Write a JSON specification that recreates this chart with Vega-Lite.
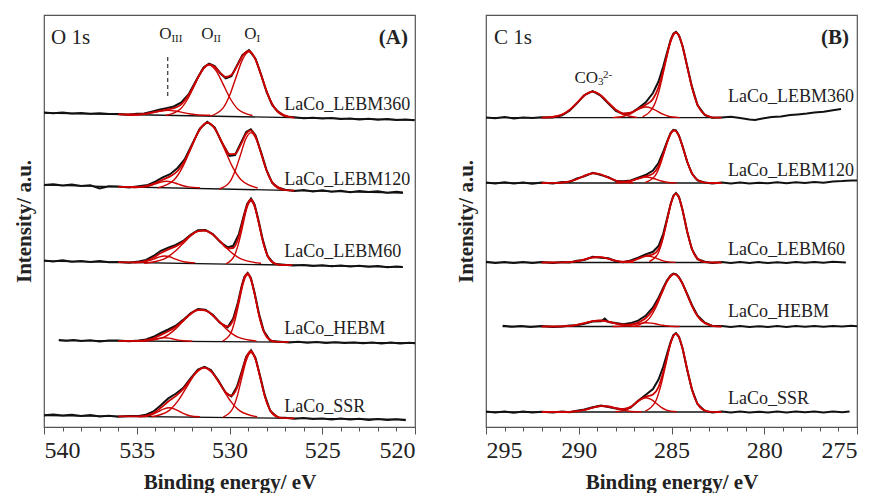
{
"$schema": "https://vega.github.io/schema/vega-lite/v6.json",
"background": "white",
"padding": {"left": 12, "top": 14, "right": 0, "bottom": 0},
"bounds": "flush",
"spacing": 71,
"config": {
  "font": "Liberation Serif",
  "view": {"stroke": "#555", "strokeWidth": 1.2},
  "axis": {"labelFont": "Liberation Serif", "titleFont": "Liberation Serif", "grid": false, "domainColor": "#555", "tickColor": "#555", "labelColor": "#222", "titleColor": "#222"},
  "axisY": {"labels": false, "ticks": false, "domain": false, "titleFontSize": 21, "titleFontWeight": "bold", "titlePadding": 10},
  "text": {"font": "Liberation Serif", "color": "#222"}
},
"datasets": {
"specA": [
{"s":"A1","x":540,"y":314.5},{"s":"A1","x":539.5,"y":313.8},{"s":"A1","x":539,"y":314.6},{"s":"A1","x":538.5,"y":313.5},{"s":"A1","x":538,"y":314.1},{"s":"A1","x":537.5,"y":313.2},{"s":"A1","x":537,"y":313.8},{"s":"A1","x":536.5,"y":312.9},
{"s":"A1","x":536,"y":313.1,"f":312.6},{"s":"A1","x":535.5,"y":312.3,"f":312.5},{"s":"A1","x":535,"y":313.2,"f":312.7},{"s":"A1","x":534.6,"y":313.5,"f":313.2},{"s":"A1","x":534.2,"y":315.3,"f":314.4},{"s":"A1","x":533.8,"y":317.2,"f":315.9},{"s":"A1","x":533.4,"y":318.9,"f":317.4},{"s":"A1","x":533.0,"y":320.5,"f":318.8},{"s":"A1","x":532.6,"y":324.6,"f":322.7},{"s":"A1","x":532.2,"y":332.8,"f":331.9},{"s":"A1","x":531.8,"y":346.5,"f":345.9},{"s":"A1","x":531.4,"y":359.6,"f":358.7},{"s":"A1","x":531.1,"y":363.4,"f":362.6},{"s":"A1","x":530.8,"y":360.9,"f":360.2},{"s":"A1","x":530.5,"y":353.8,"f":354.2},{"s":"A1","x":530.2,"y":348.7,"f":350.0},{"s":"A1","x":529.9,"y":350.8,"f":351.9},{"s":"A1","x":529.6,"y":361.4,"f":360.7},{"s":"A1","x":529.3,"y":372.0,"f":371.2},{"s":"A1","x":528.95,"y":376.9,"f":376.2},{"s":"A1","x":528.6,"y":368.3,"f":367.7},{"s":"A1","x":528.3,"y":352.6,"f":352.1},{"s":"A1","x":528.0,"y":335.0,"f":335.6},{"s":"A1","x":527.7,"y":322.1,"f":322.8},{"s":"A1","x":527.4,"y":315.6,"f":315.2},{"s":"A1","x":527.0,"y":310.5,"f":310.8},{"s":"A1","x":526.5,"y":309.8,"f":309.4},
{"s":"A1","x":526,"y":308.7},{"s":"A1","x":525.5,"y":309.3},{"s":"A1","x":525,"y":308.4},{"s":"A1","x":524.5,"y":309.0},{"s":"A1","x":524,"y":308.1},{"s":"A1","x":523.5,"y":308.6},{"s":"A1","x":523,"y":307.6},{"s":"A1","x":522.5,"y":308.2},{"s":"A1","x":522,"y":307.3},{"s":"A1","x":521.5,"y":307.9},{"s":"A1","x":521,"y":306.9},{"s":"A1","x":520.5,"y":307.5},{"s":"A1","x":520.05,"y":306.8},
{"s":"A2","x":540,"y":242.0},{"s":"A2","x":539.5,"y":242.8},{"s":"A2","x":539,"y":241.6},{"s":"A2","x":538.5,"y":242.4},{"s":"A2","x":538,"y":241.0},{"s":"A2","x":537.5,"y":241.8},{"s":"A2","x":537,"y":238.6},{"s":"A2","x":536.5,"y":240.8},
{"s":"A2","x":536,"y":240.6,"f":240.3},{"s":"A2","x":535.4,"y":239.5,"f":240.0},{"s":"A2","x":534.8,"y":240.9,"f":240.2},{"s":"A2","x":534.4,"y":242.0,"f":241.3},{"s":"A2","x":534.0,"y":245.3,"f":243.9},{"s":"A2","x":533.6,"y":249.6,"f":247.3},{"s":"A2","x":533.2,"y":252.8,"f":250.6},{"s":"A2","x":532.8,"y":259.0,"f":256.0},{"s":"A2","x":532.4,"y":268.2,"f":266.6},{"s":"A2","x":532.0,"y":283.4,"f":282.7},{"s":"A2","x":531.6,"y":298.3,"f":297.7},{"s":"A2","x":531.2,"y":305.2,"f":304.3},{"s":"A2","x":530.8,"y":299.5,"f":298.8},{"s":"A2","x":530.4,"y":284.0,"f":284.5},{"s":"A2","x":530.0,"y":271.2,"f":272.9},{"s":"A2","x":529.7,"y":272.0,"f":273.1},{"s":"A2","x":529.4,"y":283.6,"f":282.1},{"s":"A2","x":529.1,"y":295.0,"f":293.4},{"s":"A2","x":528.85,"y":297.6,"f":296.7},{"s":"A2","x":528.6,"y":291.8,"f":290.6},{"s":"A2","x":528.3,"y":275.0,"f":273.7},{"s":"A2","x":528.0,"y":256.9,"f":256.3},{"s":"A2","x":527.7,"y":244.1,"f":244.6},{"s":"A2","x":527.4,"y":239.6,"f":239.1},{"s":"A2","x":527.0,"y":237.2,"f":236.9},{"s":"A2","x":526.5,"y":236.0,"f":236.4},
{"s":"A2","x":526,"y":236.9},{"s":"A2","x":525.5,"y":235.6},{"s":"A2","x":525,"y":236.7},{"s":"A2","x":524.5,"y":235.3},{"s":"A2","x":524,"y":236.2},{"s":"A2","x":523.5,"y":234.7},{"s":"A2","x":523,"y":235.9},{"s":"A2","x":522.5,"y":234.9},{"s":"A2","x":522,"y":235.7},{"s":"A2","x":521.5,"y":234.3},{"s":"A2","x":521,"y":235.3},{"s":"A2","x":520.65,"y":234.5},
{"s":"A3","x":540,"y":166.4},{"s":"A3","x":539.5,"y":165.6},{"s":"A3","x":539,"y":166.8},{"s":"A3","x":538.5,"y":165.3},{"s":"A3","x":538,"y":166.1},{"s":"A3","x":537.5,"y":165.0},{"s":"A3","x":537,"y":165.9},{"s":"A3","x":536.5,"y":164.7},
{"s":"A3","x":536,"y":165.1,"f":164.8},{"s":"A3","x":535.4,"y":164.2,"f":164.6},{"s":"A3","x":534.9,"y":165.5,"f":164.9},{"s":"A3","x":534.5,"y":167.0,"f":166.1},{"s":"A3","x":534.1,"y":171.0,"f":169.5},{"s":"A3","x":533.7,"y":176.2,"f":174.0},{"s":"A3","x":533.3,"y":179.4,"f":177.6},{"s":"A3","x":532.9,"y":182.0,"f":180.6},{"s":"A3","x":532.5,"y":186.1,"f":185.3},{"s":"A3","x":532.1,"y":192.3,"f":191.4},{"s":"A3","x":531.7,"y":196.8,"f":195.9},{"s":"A3","x":531.3,"y":197.1,"f":196.4},{"s":"A3","x":530.9,"y":193.0,"f":192.4},{"s":"A3","x":530.5,"y":185.0,"f":185.5},{"s":"A3","x":530.1,"y":179.6,"f":178.7},{"s":"A3","x":529.8,"y":181.2,"f":179.0},{"s":"A3","x":529.5,"y":192.5,"f":190.2},{"s":"A3","x":529.25,"y":210.0,"f":208.4},{"s":"A3","x":529.05,"y":223.0,"f":221.9},{"s":"A3","x":528.84,"y":228.4,"f":227.5},{"s":"A3","x":528.65,"y":222.6,"f":221.5},{"s":"A3","x":528.45,"y":207.8,"f":206.4},{"s":"A3","x":528.2,"y":186.9,"f":185.8},{"s":"A3","x":527.95,"y":171.0,"f":171.3},{"s":"A3","x":527.6,"y":163.2,"f":163.6},{"s":"A3","x":527.2,"y":162.4,"f":162.0},{"s":"A3","x":526.6,"y":161.4,"f":161.8},
{"s":"A3","x":526,"y":162.1},{"s":"A3","x":525.5,"y":161.0},{"s":"A3","x":525,"y":161.8},{"s":"A3","x":524.5,"y":160.7},{"s":"A3","x":524,"y":161.5},{"s":"A3","x":523.5,"y":160.4},{"s":"A3","x":523,"y":161.2},{"s":"A3","x":522.5,"y":160.2},{"s":"A3","x":522,"y":160.9},{"s":"A3","x":521.5,"y":159.8},{"s":"A3","x":521,"y":160.6},{"s":"A3","x":520.66,"y":159.9},
{"s":"A4","x":539.2,"y":87.0},{"s":"A4","x":538.8,"y":86.2},{"s":"A4","x":538.4,"y":87.1},{"s":"A4","x":538.0,"y":86.0},{"s":"A4","x":537.5,"y":86.8},{"s":"A4","x":537.0,"y":85.6},{"s":"A4","x":536.5,"y":86.5},
{"s":"A4","x":536,"y":86.5,"f":86.1},{"s":"A4","x":535.4,"y":85.7,"f":86.0},{"s":"A4","x":534.9,"y":86.6,"f":86.1},{"s":"A4","x":534.5,"y":87.6,"f":86.8},{"s":"A4","x":534.1,"y":90.2,"f":88.7},{"s":"A4","x":533.7,"y":94.0,"f":92.1},{"s":"A4","x":533.3,"y":97.5,"f":95.7},{"s":"A4","x":532.9,"y":101.3,"f":100.1},{"s":"A4","x":532.5,"y":107.1,"f":106.3},{"s":"A4","x":532.1,"y":113.8,"f":113.1},{"s":"A4","x":531.7,"y":118.0,"f":117.1},{"s":"A4","x":531.3,"y":117.3,"f":116.6},{"s":"A4","x":530.9,"y":112.2,"f":111.5},{"s":"A4","x":530.5,"y":104.0,"f":104.3},{"s":"A4","x":530.1,"y":99.6,"f":100.5},{"s":"A4","x":529.8,"y":108.5,"f":107.2},{"s":"A4","x":529.55,"y":124.2,"f":123.0},{"s":"A4","x":529.35,"y":140.5,"f":139.4},{"s":"A4","x":529.2,"y":150.0,"f":149.1},{"s":"A4","x":529.02,"y":154.0,"f":153.5},{"s":"A4","x":528.85,"y":149.2,"f":148.4},{"s":"A4","x":528.65,"y":134.6,"f":133.4},{"s":"A4","x":528.4,"y":112.4,"f":111.2},{"s":"A4","x":528.15,"y":96.0,"f":95.5},{"s":"A4","x":527.8,"y":86.2,"f":86.7},{"s":"A4","x":527.4,"y":85.4,"f":85.1},{"s":"A4","x":526.8,"y":84.4,"f":84.9},
{"s":"A4","x":526.3,"y":85.2},{"s":"A4","x":525.8,"y":84.3},{"s":"A4","x":525.3,"y":85.0},{"s":"A4","x":524.8,"y":84.0},{"s":"A4","x":524.3,"y":84.8},{"s":"A4","x":523.8,"y":83.9},{"s":"A4","x":523.3,"y":84.6},{"s":"A4","x":522.8,"y":83.7},{"s":"A4","x":522.3,"y":84.5},{"s":"A4","x":521.8,"y":83.6},{"s":"A4","x":521.3,"y":84.4},{"s":"A4","x":520.8,"y":83.5},{"s":"A4","x":520.3,"y":84.3},{"s":"A4","x":520.0,"y":83.8},
{"s":"A5","x":540,"y":11.8},{"s":"A5","x":539.5,"y":12.6},{"s":"A5","x":539,"y":11.4},{"s":"A5","x":538.5,"y":12.3},{"s":"A5","x":538,"y":11.0},{"s":"A5","x":537.5,"y":11.9},{"s":"A5","x":537,"y":10.4},{"s":"A5","x":536.5,"y":11.3},
{"s":"A5","x":536,"y":10.2,"f":10.7},{"s":"A5","x":535.4,"y":11.1,"f":10.6},{"s":"A5","x":534.9,"y":10.9,"f":10.7},{"s":"A5","x":534.5,"y":12.3,"f":11.3},{"s":"A5","x":534.1,"y":15.6,"f":13.9},{"s":"A5","x":533.7,"y":21.8,"f":19.2},{"s":"A5","x":533.3,"y":28.6,"f":25.5},{"s":"A5","x":532.9,"y":33.2,"f":30.9},{"s":"A5","x":532.5,"y":39.0,"f":37.9},{"s":"A5","x":532.1,"y":48.6,"f":47.5},{"s":"A5","x":531.7,"y":57.4,"f":56.5},{"s":"A5","x":531.35,"y":60.2,"f":59.3},{"s":"A5","x":531.0,"y":56.9,"f":55.8},{"s":"A5","x":530.6,"y":46.5,"f":45.7},{"s":"A5","x":530.2,"y":34.0,"f":34.7},{"s":"A5","x":529.9,"y":30.6,"f":31.4},{"s":"A5","x":529.6,"y":40.2,"f":38.9},{"s":"A5","x":529.35,"y":55.0,"f":53.5},{"s":"A5","x":529.1,"y":70.4,"f":69.3},{"s":"A5","x":528.84,"y":76.8,"f":76.0},{"s":"A5","x":528.6,"y":69.2,"f":68.1},{"s":"A5","x":528.35,"y":51.0,"f":49.8},{"s":"A5","x":528.1,"y":31.8,"f":31.0},{"s":"A5","x":527.8,"y":16.0,"f":16.5},{"s":"A5","x":527.4,"y":9.5,"f":9.9},{"s":"A5","x":527.0,"y":9.3,"f":8.8},{"s":"A5","x":526.5,"y":8.2,"f":8.7},
{"s":"A5","x":526,"y":8.9},{"s":"A5","x":525.5,"y":7.9},{"s":"A5","x":525,"y":8.6},{"s":"A5","x":524.5,"y":7.6},{"s":"A5","x":524,"y":8.4},{"s":"A5","x":523.5,"y":7.4},{"s":"A5","x":523,"y":8.2},{"s":"A5","x":522.5,"y":7.1},{"s":"A5","x":522,"y":7.9},{"s":"A5","x":521.5,"y":6.9},{"s":"A5","x":521,"y":7.7},{"s":"A5","x":520.5,"y":6.8}
],
"compA": [
{"s":"A1","c":"I","x":531.05,"y":310.8},{"s":"A1","c":"I","x":530.35,"y":318.9},{"s":"A1","c":"I","x":530.0,"y":331.2},{"s":"A1","c":"I","x":529.65,"y":349.6},{"s":"A1","c":"I","x":529.3,"y":367.4},{"s":"A1","c":"I","x":528.95,"y":375.1},{"s":"A1","c":"I","x":528.6,"y":367.4},{"s":"A1","c":"I","x":528.25,"y":349.6},{"s":"A1","c":"I","x":527.9,"y":331.2},{"s":"A1","c":"I","x":527.55,"y":318.9},{"s":"A1","c":"I","x":526.85,"y":310.8},
{"s":"A1","c":"II","x":533.44,"y":311.5},{"s":"A1","c":"II","x":532.66,"y":317.8},{"s":"A1","c":"II","x":532.27,"y":327.5},{"s":"A1","c":"II","x":531.88,"y":341.9},{"s":"A1","c":"II","x":531.49,"y":355.9},{"s":"A1","c":"II","x":531.1,"y":361.9},{"s":"A1","c":"II","x":530.71,"y":355.9},{"s":"A1","c":"II","x":530.32,"y":341.9},{"s":"A1","c":"II","x":529.93,"y":327.5},{"s":"A1","c":"II","x":529.54,"y":317.8},{"s":"A1","c":"II","x":528.76,"y":311.5},
{"s":"A1","c":"III","x":535.55,"y":311.7},{"s":"A1","c":"III","x":534.8,"y":312.3},{"s":"A1","c":"III","x":534.43,"y":313.2},{"s":"A1","c":"III","x":534.05,"y":314.6},{"s":"A1","c":"III","x":533.68,"y":316.0},{"s":"A1","c":"III","x":533.3,"y":316.6},{"s":"A1","c":"III","x":532.93,"y":316.0},{"s":"A1","c":"III","x":532.55,"y":314.6},{"s":"A1","c":"III","x":532.18,"y":313.2},{"s":"A1","c":"III","x":531.8,"y":312.3},{"s":"A1","c":"III","x":531.05,"y":311.7},
{"s":"A2","c":"I","x":530.55,"y":238.0},{"s":"A2","c":"I","x":529.98,"y":245.1},{"s":"A2","c":"I","x":529.70,"y":255.9},{"s":"A2","c":"I","x":529.41,"y":272.0},{"s":"A2","c":"I","x":529.13,"y":287.7},{"s":"A2","c":"I","x":528.84,"y":294.4},{"s":"A2","c":"I","x":528.56,"y":287.7},{"s":"A2","c":"I","x":528.27,"y":272.0},{"s":"A2","c":"I","x":527.99,"y":255.9},{"s":"A2","c":"I","x":527.70,"y":245.1},{"s":"A2","c":"I","x":527.13,"y":238.0},
{"s":"A2","c":"II","x":533.88,"y":239.0},{"s":"A2","c":"II","x":532.98,"y":247.2},{"s":"A2","c":"II","x":532.53,"y":259.8},{"s":"A2","c":"II","x":532.08,"y":278.4},{"s":"A2","c":"II","x":531.63,"y":296.5},{"s":"A2","c":"II","x":531.18,"y":304.3},{"s":"A2","c":"II","x":530.73,"y":296.5},{"s":"A2","c":"II","x":530.28,"y":278.4},{"s":"A2","c":"II","x":529.83,"y":259.8},{"s":"A2","c":"II","x":529.38,"y":247.2},{"s":"A2","c":"II","x":528.48,"y":239.0},
{"s":"A2","c":"III","x":535.2,"y":239.3},{"s":"A2","c":"III","x":534.6,"y":240.1},{"s":"A2","c":"III","x":534.3,"y":241.3},{"s":"A2","c":"III","x":534.0,"y":243.1},{"s":"A2","c":"III","x":533.7,"y":244.9},{"s":"A2","c":"III","x":533.4,"y":245.7},{"s":"A2","c":"III","x":533.1,"y":244.9},{"s":"A2","c":"III","x":532.8,"y":243.1},{"s":"A2","c":"III","x":532.5,"y":241.3},{"s":"A2","c":"III","x":532.2,"y":240.1},{"s":"A2","c":"III","x":531.6,"y":239.3},
{"s":"A3","c":"I","x":530.19,"y":163.2},{"s":"A3","c":"I","x":529.74,"y":171.1},{"s":"A3","c":"I","x":529.52,"y":183.1},{"s":"A3","c":"I","x":529.29,"y":201.0},{"s":"A3","c":"I","x":529.07,"y":218.5},{"s":"A3","c":"I","x":528.84,"y":226.0},{"s":"A3","c":"I","x":528.62,"y":218.5},{"s":"A3","c":"I","x":528.39,"y":201.0},{"s":"A3","c":"I","x":528.17,"y":183.1},{"s":"A3","c":"I","x":527.94,"y":171.1},{"s":"A3","c":"I","x":527.49,"y":163.2},
{"s":"A3","c":"II","x":534.6,"y":163.7},{"s":"A3","c":"II","x":533.55,"y":167.8},{"s":"A3","c":"II","x":533.03,"y":174.2},{"s":"A3","c":"II","x":532.5,"y":183.6},{"s":"A3","c":"II","x":531.98,"y":192.8},{"s":"A3","c":"II","x":531.45,"y":196.7},{"s":"A3","c":"II","x":530.93,"y":192.8},{"s":"A3","c":"II","x":530.4,"y":183.6},{"s":"A3","c":"II","x":529.88,"y":174.2},{"s":"A3","c":"II","x":529.35,"y":167.8},{"s":"A3","c":"II","x":528.3,"y":163.7},
{"s":"A3","c":"III","x":535.15,"y":164.1},{"s":"A3","c":"III","x":534.6,"y":165.0},{"s":"A3","c":"III","x":534.33,"y":166.3},{"s":"A3","c":"III","x":534.05,"y":168.2},{"s":"A3","c":"III","x":533.78,"y":170.2},{"s":"A3","c":"III","x":533.5,"y":171.0},{"s":"A3","c":"III","x":533.23,"y":170.2},{"s":"A3","c":"III","x":532.95,"y":168.2},{"s":"A3","c":"III","x":532.68,"y":166.3},{"s":"A3","c":"III","x":532.4,"y":165.0},{"s":"A3","c":"III","x":531.85,"y":164.1},
{"s":"A4","c":"I","x":530.37,"y":85.9},{"s":"A4","c":"I","x":529.92,"y":94.2},{"s":"A4","c":"I","x":529.70,"y":107.0},{"s":"A4","c":"I","x":529.47,"y":125.9},{"s":"A4","c":"I","x":529.25,"y":144.3},{"s":"A4","c":"I","x":529.02,"y":152.2},{"s":"A4","c":"I","x":528.80,"y":144.3},{"s":"A4","c":"I","x":528.57,"y":125.9},{"s":"A4","c":"I","x":528.35,"y":107.0},{"s":"A4","c":"I","x":528.12,"y":94.2},{"s":"A4","c":"I","x":527.67,"y":85.9},
{"s":"A4","c":"II","x":534.54,"y":85.9},{"s":"A4","c":"II","x":533.54,"y":89.8},{"s":"A4","c":"II","x":533.04,"y":95.9},{"s":"A4","c":"II","x":532.54,"y":104.9},{"s":"A4","c":"II","x":532.04,"y":113.7},{"s":"A4","c":"II","x":531.54,"y":117.5},{"s":"A4","c":"II","x":531.04,"y":113.7},{"s":"A4","c":"II","x":530.54,"y":104.9},{"s":"A4","c":"II","x":530.04,"y":95.9},{"s":"A4","c":"II","x":529.54,"y":89.8},{"s":"A4","c":"II","x":528.54,"y":85.9},
{"s":"A4","c":"III","x":535.0,"y":85.8},{"s":"A4","c":"III","x":534.5,"y":86.3},{"s":"A4","c":"III","x":534.25,"y":86.9},{"s":"A4","c":"III","x":534.0,"y":87.9},{"s":"A4","c":"III","x":533.75,"y":88.9},{"s":"A4","c":"III","x":533.5,"y":89.3},{"s":"A4","c":"III","x":533.25,"y":88.9},{"s":"A4","c":"III","x":533.0,"y":87.9},{"s":"A4","c":"III","x":532.75,"y":86.9},{"s":"A4","c":"III","x":532.5,"y":86.3},{"s":"A4","c":"III","x":532.0,"y":85.8},
{"s":"A5","c":"I","x":530.34,"y":9.9},{"s":"A5","c":"I","x":529.84,"y":18.0},{"s":"A5","c":"I","x":529.59,"y":30.4},{"s":"A5","c":"I","x":529.34,"y":48.8},{"s":"A5","c":"I","x":529.09,"y":66.8},{"s":"A5","c":"I","x":528.84,"y":74.5},{"s":"A5","c":"I","x":528.59,"y":66.8},{"s":"A5","c":"I","x":528.34,"y":48.8},{"s":"A5","c":"I","x":528.09,"y":30.4},{"s":"A5","c":"I","x":527.84,"y":18.0},{"s":"A5","c":"I","x":527.34,"y":9.9},
{"s":"A5","c":"II","x":534.21,"y":10.2},{"s":"A5","c":"II","x":533.26,"y":16.4},{"s":"A5","c":"II","x":532.79,"y":25.8},{"s":"A5","c":"II","x":532.31,"y":39.8},{"s":"A5","c":"II","x":531.84,"y":53.4},{"s":"A5","c":"II","x":531.36,"y":59.3},{"s":"A5","c":"II","x":530.89,"y":53.4},{"s":"A5","c":"II","x":530.41,"y":39.8},{"s":"A5","c":"II","x":529.94,"y":25.8},{"s":"A5","c":"II","x":529.46,"y":16.4},{"s":"A5","c":"II","x":528.51,"y":10.2},
{"s":"A5","c":"III","x":534.9,"y":10.2},{"s":"A5","c":"III","x":534.35,"y":11.3},{"s":"A5","c":"III","x":534.08,"y":13.1},{"s":"A5","c":"III","x":533.8,"y":15.7},{"s":"A5","c":"III","x":533.53,"y":18.2},{"s":"A5","c":"III","x":533.25,"y":19.3},{"s":"A5","c":"III","x":532.98,"y":18.2},{"s":"A5","c":"III","x":532.7,"y":15.7},{"s":"A5","c":"III","x":532.43,"y":13.1},{"s":"A5","c":"III","x":532.15,"y":11.3},{"s":"A5","c":"III","x":531.6,"y":10.2}
],
"baseA": [
{"s":"A1","x":540,"y":314},{"s":"A1","x":520,"y":307},
{"s":"A2","x":540,"y":241.9},{"s":"A2","x":520.65,"y":234},
{"s":"A3","x":540,"y":166},{"s":"A3","x":520.66,"y":160},
{"s":"A4","x":539.2,"y":86.5},{"s":"A4","x":520,"y":84},
{"s":"A5","x":540,"y":11.5},{"s":"A5","x":520.5,"y":7.5}
],
"labA": [
{"x":527.05,"y":317,"t":"LaCo_LEBM360"},{"x":527.05,"y":242.5,"t":"LaCo_LEBM120"},{"x":527.05,"y":170.3,"t":"LaCo_LEBM60"},{"x":527.05,"y":93.3,"t":"LaCo_HEBM"},{"x":527.05,"y":15.5,"t":"LaCo_SSR"}
],
"annA": [
{"k":"head","x":539.62,"y":383,"t":"O 1s"},
{"k":"tag","x":520.38,"y":383,"t":"(A)"},
{"k":"O","x":533.13,"y":387.7,"t":"O"},{"k":"O","x":530.86,"y":387.7,"t":"O"},{"k":"O","x":528.54,"y":387.7,"t":"O"},
{"k":"sub","x":533.13,"y":385.3,"t":"III"},{"k":"sub","x":530.86,"y":385.3,"t":"II"},{"k":"sub","x":528.54,"y":385.3,"t":"I"}
],
"dashA": [{"x":533.33,"y":331,"y2":373}],
"specB": [
{"s":"B1","x":295,"y":309.6},{"s":"B1","x":294.5,"y":308.8},{"s":"B1","x":294,"y":309.9},{"s":"B1","x":293.5,"y":308.6},{"s":"B1","x":293,"y":309.5},{"s":"B1","x":292.5,"y":308.9},
{"s":"B1","x":292,"y":309.8,"f":309.4},{"s":"B1","x":291.4,"y":309.4,"f":310.0},{"s":"B1","x":290.9,"y":311.6,"f":312.4},{"s":"B1","x":290.5,"y":316.2,"f":317.0},{"s":"B1","x":290.1,"y":323.6,"f":324.1},{"s":"B1","x":289.7,"y":332.0,"f":331.5},{"s":"B1","x":289.25,"y":335.8,"f":335.3},{"s":"B1","x":288.8,"y":331.0,"f":331.5},{"s":"B1","x":288.4,"y":323.5,"f":324.1},{"s":"B1","x":288.0,"y":316.2,"f":317.3},{"s":"B1","x":287.6,"y":312.9,"f":313.7},{"s":"B1","x":287.2,"y":313.6,"f":314.4},{"s":"B1","x":286.8,"y":318.6,"f":318.1},{"s":"B1","x":286.4,"y":324.5,"f":322.1},{"s":"B1","x":286.0,"y":334.0,"f":328.1},{"s":"B1","x":285.7,"y":345.5,"f":339.8},{"s":"B1","x":285.45,"y":360.2,"f":356.5},{"s":"B1","x":285.25,"y":373.8,"f":371.9},{"s":"B1","x":285.05,"y":386.9,"f":386.0},{"s":"B1","x":284.9,"y":393.4,"f":392.7},{"s":"B1","x":284.76,"y":395.2,"f":394.6},{"s":"B1","x":284.6,"y":391.8,"f":391.3},{"s":"B1","x":284.4,"y":380.8,"f":380.3},{"s":"B1","x":284.15,"y":360.5,"f":359.9},{"s":"B1","x":283.9,"y":340.6,"f":339.9},{"s":"B1","x":283.6,"y":322.0,"f":322.5},{"s":"B1","x":283.2,"y":311.8,"f":312.2},{"s":"B1","x":282.8,"y":309.2,"f":309.7},{"s":"B1","x":282.3,"y":309.6,"f":309.3},
{"s":"B1","x":281.8,"y":310.2},{"s":"B1","x":281.3,"y":309.0},{"s":"B1","x":280.8,"y":307.5},{"s":"B1","x":280.5,"y":306.9},{"s":"B1","x":280.1,"y":308.4},{"s":"B1","x":279.6,"y":310.0},{"s":"B1","x":279.1,"y":310.6},{"s":"B1","x":278.6,"y":311.9},{"s":"B1","x":278.2,"y":312.6},{"s":"B1","x":277.7,"y":313.4},{"s":"B1","x":277.3,"y":314.5},{"s":"B1","x":276.8,"y":315.2},{"s":"B1","x":276.3,"y":316.8},{"s":"B1","x":275.86,"y":317.9},
{"s":"B2","x":295,"y":244.5},{"s":"B2","x":294.5,"y":243.6},{"s":"B2","x":294,"y":244.8},{"s":"B2","x":293.5,"y":243.5},{"s":"B2","x":293,"y":244.4},{"s":"B2","x":292.5,"y":243.3},
{"s":"B2","x":292,"y":244.6,"f":244.0},{"s":"B2","x":291.4,"y":243.5,"f":244.1},{"s":"B2","x":290.9,"y":244.9,"f":244.4},{"s":"B2","x":290.5,"y":245.0,"f":245.6},{"s":"B2","x":290.1,"y":248.5,"f":247.9},{"s":"B2","x":289.7,"y":250.6,"f":251.2},{"s":"B2","x":289.25,"y":254.2,"f":253.6},{"s":"B2","x":288.8,"y":251.9,"f":252.5},{"s":"B2","x":288.4,"y":249.8,"f":249.3},{"s":"B2","x":288.0,"y":245.9,"f":246.5},{"s":"B2","x":287.6,"y":245.8,"f":245.3},{"s":"B2","x":287.2,"y":246.6,"f":246.1},{"s":"B2","x":286.8,"y":249.4,"f":248.4},{"s":"B2","x":286.4,"y":252.0,"f":250.6},{"s":"B2","x":286.0,"y":256.4,"f":253.4},{"s":"B2","x":285.7,"y":264.0,"f":260.9},{"s":"B2","x":285.45,"y":275.0,"f":272.7},{"s":"B2","x":285.25,"y":285.0,"f":283.9},{"s":"B2","x":285.05,"y":294.0,"f":293.3},{"s":"B2","x":284.9,"y":297.2,"f":296.5},{"s":"B2","x":284.76,"y":296.6,"f":296.0},{"s":"B2","x":284.6,"y":291.5,"f":291.0},{"s":"B2","x":284.4,"y":280.6,"f":280.1},{"s":"B2","x":284.15,"y":265.0,"f":265.2},{"s":"B2","x":283.9,"y":253.4,"f":253.9},{"s":"B2","x":283.6,"y":246.6,"f":247.0},{"s":"B2","x":283.2,"y":244.6,"f":244.3},{"s":"B2","x":282.8,"y":243.5,"f":244.0},{"s":"B2","x":282.3,"y":244.4,"f":244.0},
{"s":"B2","x":281.8,"y":243.6},{"s":"B2","x":281.3,"y":244.5},{"s":"B2","x":280.8,"y":243.4},{"s":"B2","x":280.3,"y":244.3},{"s":"B2","x":279.8,"y":243.7},{"s":"B2","x":279.3,"y":244.8},{"s":"B2","x":278.8,"y":243.8},{"s":"B2","x":278.3,"y":244.7},{"s":"B2","x":277.8,"y":243.9},{"s":"B2","x":277.3,"y":244.9},{"s":"B2","x":276.8,"y":244.2},{"s":"B2","x":276.3,"y":245.6},{"s":"B2","x":275.8,"y":245.9},{"s":"B2","x":275.3,"y":246.5},{"s":"B2","x":275.0,"y":246.4},
{"s":"B3","x":295,"y":165.2},{"s":"B3","x":294.5,"y":164.0},{"s":"B3","x":294,"y":165.0},{"s":"B3","x":293.5,"y":163.9},{"s":"B3","x":293,"y":165.1},{"s":"B3","x":292.5,"y":164.1},
{"s":"B3","x":292,"y":164.9,"f":164.5},{"s":"B3","x":291.4,"y":164.0,"f":164.5},{"s":"B3","x":290.9,"y":165.1,"f":164.6},{"s":"B3","x":290.5,"y":164.4,"f":164.9},{"s":"B3","x":290.1,"y":166.3,"f":165.8},{"s":"B3","x":289.7,"y":167.0,"f":167.5},{"s":"B3","x":289.25,"y":170.2,"f":169.5},{"s":"B3","x":288.8,"y":169.2,"f":169.8},{"s":"B3","x":288.4,"y":168.7,"f":168.2},{"s":"B3","x":288.0,"y":165.7,"f":166.3},{"s":"B3","x":287.6,"y":164.8,"f":165.3},{"s":"B3","x":287.2,"y":166.5,"f":165.8},{"s":"B3","x":286.8,"y":169.4,"f":168.3},{"s":"B3","x":286.4,"y":172.6,"f":171.0},{"s":"B3","x":286.0,"y":175.2,"f":172.6},{"s":"B3","x":285.7,"y":181.0,"f":177.8},{"s":"B3","x":285.45,"y":193.0,"f":190.5},{"s":"B3","x":285.25,"y":207.5,"f":206.2},{"s":"B3","x":285.05,"y":222.8,"f":222.2},{"s":"B3","x":284.9,"y":231.2,"f":230.6},{"s":"B3","x":284.76,"y":233.9,"f":233.3},{"s":"B3","x":284.6,"y":230.2,"f":229.7},{"s":"B3","x":284.4,"y":216.8,"f":216.4},{"s":"B3","x":284.15,"y":195.0,"f":195.2},{"s":"B3","x":283.9,"y":177.8,"f":178.3},{"s":"B3","x":283.6,"y":167.9,"f":168.2},{"s":"B3","x":283.2,"y":165.2,"f":164.8},{"s":"B3","x":282.8,"y":164.0,"f":164.5},{"s":"B3","x":282.3,"y":164.9,"f":164.5},
{"s":"B3","x":281.8,"y":164.1},{"s":"B3","x":281.3,"y":165.0},{"s":"B3","x":280.8,"y":164.0},{"s":"B3","x":280.3,"y":164.9},{"s":"B3","x":279.8,"y":163.9},{"s":"B3","x":279.3,"y":164.8},{"s":"B3","x":278.8,"y":164.0},{"s":"B3","x":278.3,"y":165.0},{"s":"B3","x":277.8,"y":164.2},{"s":"B3","x":277.3,"y":165.1},{"s":"B3","x":276.8,"y":164.3},{"s":"B3","x":276.3,"y":165.2},{"s":"B3","x":275.6,"y":164.6},
{"s":"B4","x":294.1,"y":101.2},{"s":"B4","x":293.6,"y":100.2},{"s":"B4","x":293.1,"y":101.0},{"s":"B4","x":292.6,"y":99.9},
{"s":"B4","x":292,"y":100.9,"f":100.5},{"s":"B4","x":291.4,"y":100.1,"f":100.5},{"s":"B4","x":290.9,"y":100.4,"f":100.7},{"s":"B4","x":290.5,"y":101.6,"f":101.1},{"s":"B4","x":290.1,"y":101.8,"f":102.2},{"s":"B4","x":289.7,"y":103.2,"f":103.9},{"s":"B4","x":289.25,"y":105.4,"f":105.9},{"s":"B4","x":288.8,"y":105.8,"f":106.5},{"s":"B4","x":288.6,"y":108.4},{"s":"B4","x":288.4,"y":105.0,"f":105.3},{"s":"B4","x":288.0,"y":103.9,"f":103.5},{"s":"B4","x":287.6,"y":102.7,"f":102.3},{"s":"B4","x":287.2,"y":103.9,"f":102.7},{"s":"B4","x":286.8,"y":106.4,"f":104.5},{"s":"B4","x":286.4,"y":111.2,"f":108.8},{"s":"B4","x":286.0,"y":119.5,"f":117.2},{"s":"B4","x":285.7,"y":129.2,"f":127.6},{"s":"B4","x":285.45,"y":139.0,"f":137.8},{"s":"B4","x":285.25,"y":146.4,"f":145.6},{"s":"B4","x":285.05,"y":151.6,"f":151.0},{"s":"B4","x":284.9,"y":153.4,"f":152.8},{"s":"B4","x":284.76,"y":152.9,"f":152.3},{"s":"B4","x":284.6,"y":150.0,"f":149.4},{"s":"B4","x":284.4,"y":143.2,"f":143.0},{"s":"B4","x":284.15,"y":132.8,"f":132.2},{"s":"B4","x":283.9,"y":122.0,"f":121.2},{"s":"B4","x":283.6,"y":111.5,"f":111.0},{"s":"B4","x":283.2,"y":104.4,"f":103.7},{"s":"B4","x":282.8,"y":101.0,"f":101.2},{"s":"B4","x":282.3,"y":100.9,"f":100.5},
{"s":"B4","x":281.8,"y":100.0},{"s":"B4","x":281.3,"y":100.9},{"s":"B4","x":280.8,"y":99.9},{"s":"B4","x":280.3,"y":100.8},{"s":"B4","x":279.8,"y":100.1},{"s":"B4","x":279.3,"y":101.0},{"s":"B4","x":278.8,"y":100.0},{"s":"B4","x":278.3,"y":100.9},{"s":"B4","x":277.8,"y":100.2},{"s":"B4","x":277.3,"y":101.1},{"s":"B4","x":276.8,"y":100.3},{"s":"B4","x":276.3,"y":101.0},{"s":"B4","x":275.8,"y":100.4},{"s":"B4","x":275.3,"y":101.2},{"s":"B4","x":275.0,"y":100.8},
{"s":"B5","x":295,"y":15.6},{"s":"B5","x":294.5,"y":14.6},{"s":"B5","x":294,"y":15.5},{"s":"B5","x":293.5,"y":14.3},{"s":"B5","x":293,"y":15.4},{"s":"B5","x":292.5,"y":14.5},
{"s":"B5","x":292,"y":15.3,"f":15.0},{"s":"B5","x":291.4,"y":14.4,"f":15.0},{"s":"B5","x":290.9,"y":15.6,"f":15.0},{"s":"B5","x":290.5,"y":14.8,"f":15.2},{"s":"B5","x":290.1,"y":16.2,"f":15.8},{"s":"B5","x":289.7,"y":17.5,"f":17.1},{"s":"B5","x":289.25,"y":19.8,"f":19.3},{"s":"B5","x":288.8,"y":21.4,"f":20.9},{"s":"B5","x":288.4,"y":20.0,"f":20.5},{"s":"B5","x":288.0,"y":18.4,"f":19.0},{"s":"B5","x":287.6,"y":17.2,"f":18.0},{"s":"B5","x":287.2,"y":19.5,"f":20.2},{"s":"B5","x":286.8,"y":26.2,"f":25.9},{"s":"B5","x":286.4,"y":32.0,"f":30.2},{"s":"B5","x":286.0,"y":38.0,"f":32.6},{"s":"B5","x":285.7,"y":47.5,"f":39.9},{"s":"B5","x":285.45,"y":60.0,"f":54.4},{"s":"B5","x":285.25,"y":72.5,"f":69.4},{"s":"B5","x":285.05,"y":85.0,"f":83.7},{"s":"B5","x":284.9,"y":91.8,"f":91.1},{"s":"B5","x":284.76,"y":93.8,"f":93.3},{"s":"B5","x":284.6,"y":90.2,"f":89.9},{"s":"B5","x":284.4,"y":78.5,"f":78.3},{"s":"B5","x":284.15,"y":56.8,"f":57.2},{"s":"B5","x":283.9,"y":37.6,"f":38.1},{"s":"B5","x":283.6,"y":23.0,"f":23.4},{"s":"B5","x":283.2,"y":16.1,"f":16.4},{"s":"B5","x":282.8,"y":14.6,"f":15.1},{"s":"B5","x":282.3,"y":15.4,"f":15.0},
{"s":"B5","x":281.8,"y":14.5},{"s":"B5","x":281.3,"y":15.4},{"s":"B5","x":280.8,"y":14.4},{"s":"B5","x":280.3,"y":15.3},{"s":"B5","x":279.8,"y":14.6},{"s":"B5","x":279.3,"y":15.5},{"s":"B5","x":278.8,"y":14.5},{"s":"B5","x":278.3,"y":15.6},{"s":"B5","x":277.8,"y":14.7},{"s":"B5","x":277.3,"y":15.4},{"s":"B5","x":276.8,"y":14.6},{"s":"B5","x":276.3,"y":15.5},{"s":"B5","x":275.8,"y":14.8},{"s":"B5","x":275.4,"y":15.6}
],
"compB": [
{"s":"B1","c":"m","x":286.56,"y":310.2},{"s":"B1","c":"m","x":285.96,"y":320.8},{"s":"B1","c":"m","x":285.66,"y":336.9},{"s":"B1","c":"m","x":285.36,"y":360.9},{"s":"B1","c":"m","x":285.06,"y":384.3},{"s":"B1","c":"m","x":284.76,"y":394.3},{"s":"B1","c":"m","x":284.46,"y":384.3},{"s":"B1","c":"m","x":284.16,"y":360.9},{"s":"B1","c":"m","x":283.86,"y":336.9},{"s":"B1","c":"m","x":283.56,"y":320.8},{"s":"B1","c":"m","x":282.96,"y":310.2},
{"s":"B1","c":"d","x":288.17,"y":309.4},{"s":"B1","c":"d","x":287.57,"y":310.7},{"s":"B1","c":"d","x":287.27,"y":312.8},{"s":"B1","c":"d","x":286.97,"y":315.8},{"s":"B1","c":"d","x":286.67,"y":318.7},{"s":"B1","c":"d","x":286.37,"y":320.0},{"s":"B1","c":"d","x":286.07,"y":318.7},{"s":"B1","c":"d","x":285.77,"y":315.8},{"s":"B1","c":"d","x":285.47,"y":312.8},{"s":"B1","c":"d","x":285.17,"y":310.7},{"s":"B1","c":"d","x":284.57,"y":309.4},
{"s":"B1","c":"c","x":291.65,"y":309.6},{"s":"B1","c":"c","x":290.85,"y":312.8},{"s":"B1","c":"c","x":290.45,"y":317.8},{"s":"B1","c":"c","x":290.05,"y":325.1},{"s":"B1","c":"c","x":289.65,"y":332.2},{"s":"B1","c":"c","x":289.25,"y":335.3},{"s":"B1","c":"c","x":288.85,"y":332.2},{"s":"B1","c":"c","x":288.45,"y":325.1},{"s":"B1","c":"c","x":288.05,"y":317.8},{"s":"B1","c":"c","x":287.65,"y":312.8},{"s":"B1","c":"c","x":286.85,"y":309.6},
{"s":"B2","c":"m","x":286.41,"y":244.6},{"s":"B2","c":"m","x":285.89,"y":251.1},{"s":"B2","c":"m","x":285.63,"y":261.1},{"s":"B2","c":"m","x":285.37,"y":276.0},{"s":"B2","c":"m","x":285.11,"y":290.5},{"s":"B2","c":"m","x":284.85,"y":296.7},{"s":"B2","c":"m","x":284.59,"y":290.5},{"s":"B2","c":"m","x":284.33,"y":276.0},{"s":"B2","c":"m","x":284.07,"y":261.1},{"s":"B2","c":"m","x":283.81,"y":251.1},{"s":"B2","c":"m","x":283.29,"y":244.6},
{"s":"B2","c":"d","x":288.02,"y":244.1},{"s":"B2","c":"d","x":287.47,"y":244.8},{"s":"B2","c":"d","x":287.2,"y":246.0},{"s":"B2","c":"d","x":286.92,"y":247.6},{"s":"B2","c":"d","x":286.65,"y":249.3},{"s":"B2","c":"d","x":286.37,"y":250.0},{"s":"B2","c":"d","x":286.1,"y":249.3},{"s":"B2","c":"d","x":285.82,"y":247.6},{"s":"B2","c":"d","x":285.55,"y":246.0},{"s":"B2","c":"d","x":285.27,"y":244.8},{"s":"B2","c":"d","x":284.72,"y":244.1},
{"s":"B2","c":"c","x":291.26,"y":244.1},{"s":"B2","c":"c","x":290.56,"y":245.3},{"s":"B2","c":"c","x":290.21,"y":247.2},{"s":"B2","c":"c","x":289.86,"y":249.9},{"s":"B2","c":"c","x":289.51,"y":252.6},{"s":"B2","c":"c","x":289.16,"y":253.7},{"s":"B2","c":"c","x":288.81,"y":252.6},{"s":"B2","c":"c","x":288.46,"y":249.9},{"s":"B2","c":"c","x":288.11,"y":247.2},{"s":"B2","c":"c","x":287.76,"y":245.3},{"s":"B2","c":"c","x":287.06,"y":244.1},
{"s":"B3","c":"m","x":286.2,"y":165.3},{"s":"B3","c":"m","x":285.72,"y":173.8},{"s":"B3","c":"m","x":285.48,"y":186.9},{"s":"B3","c":"m","x":285.24,"y":206.3},{"s":"B3","c":"m","x":285.0,"y":225.2},{"s":"B3","c":"m","x":284.76,"y":233.3},{"s":"B3","c":"m","x":284.52,"y":225.2},{"s":"B3","c":"m","x":284.28,"y":206.3},{"s":"B3","c":"m","x":284.04,"y":186.9},{"s":"B3","c":"m","x":283.8,"y":173.8},{"s":"B3","c":"m","x":283.32,"y":165.3},
{"s":"B3","c":"d","x":287.78,"y":164.6},{"s":"B3","c":"d","x":287.28,"y":165.4},{"s":"B3","c":"d","x":287.03,"y":166.6},{"s":"B3","c":"d","x":286.78,"y":168.4},{"s":"B3","c":"d","x":286.53,"y":170.2},{"s":"B3","c":"d","x":286.28,"y":171.0},{"s":"B3","c":"d","x":286.03,"y":170.2},{"s":"B3","c":"d","x":285.78,"y":168.4},{"s":"B3","c":"d","x":285.53,"y":166.6},{"s":"B3","c":"d","x":285.28,"y":165.4},{"s":"B3","c":"d","x":284.78,"y":164.6},
{"s":"B3","c":"c","x":290.93,"y":164.6},{"s":"B3","c":"c","x":290.28,"y":165.2},{"s":"B3","c":"c","x":289.96,"y":166.3},{"s":"B3","c":"c","x":289.63,"y":167.8},{"s":"B3","c":"c","x":289.31,"y":169.4},{"s":"B3","c":"c","x":288.98,"y":170.0},{"s":"B3","c":"c","x":288.66,"y":169.4},{"s":"B3","c":"c","x":288.33,"y":167.8},{"s":"B3","c":"c","x":288.01,"y":166.3},{"s":"B3","c":"c","x":287.68,"y":165.2},{"s":"B3","c":"c","x":287.03,"y":164.6},
{"s":"B4","c":"m","x":286.95,"y":101.1},{"s":"B4","c":"m","x":286.25,"y":107.5},{"s":"B4","c":"m","x":285.9,"y":117.5},{"s":"B4","c":"m","x":285.55,"y":132.2},{"s":"B4","c":"m","x":285.2,"y":146.6},{"s":"B4","c":"m","x":284.85,"y":152.7},{"s":"B4","c":"m","x":284.5,"y":146.6},{"s":"B4","c":"m","x":284.15,"y":132.2},{"s":"B4","c":"m","x":283.8,"y":117.5},{"s":"B4","c":"m","x":283.45,"y":107.5},{"s":"B4","c":"m","x":282.75,"y":101.1},
{"s":"B4","c":"d","x":288.17,"y":100.5},{"s":"B4","c":"d","x":287.57,"y":101.0},{"s":"B4","c":"d","x":287.27,"y":101.7},{"s":"B4","c":"d","x":286.97,"y":102.8},{"s":"B4","c":"d","x":286.67,"y":103.9},{"s":"B4","c":"d","x":286.37,"y":104.3},{"s":"B4","c":"d","x":286.07,"y":103.9},{"s":"B4","c":"d","x":285.77,"y":102.8},{"s":"B4","c":"d","x":285.47,"y":101.7},{"s":"B4","c":"d","x":285.17,"y":101.0},{"s":"B4","c":"d","x":284.57,"y":100.5},
{"s":"B4","c":"c","x":291.15,"y":100.6},{"s":"B4","c":"c","x":290.4,"y":101.3},{"s":"B4","c":"c","x":290.03,"y":102.5},{"s":"B4","c":"c","x":289.65,"y":104.1},{"s":"B4","c":"c","x":289.28,"y":105.8},{"s":"B4","c":"c","x":288.9,"y":106.5},{"s":"B4","c":"c","x":288.53,"y":105.8},{"s":"B4","c":"c","x":288.15,"y":104.1},{"s":"B4","c":"c","x":287.78,"y":102.5},{"s":"B4","c":"c","x":287.4,"y":101.3},{"s":"B4","c":"c","x":286.65,"y":100.6},
{"s":"B5","c":"m","x":286.41,"y":15.9},{"s":"B5","c":"m","x":285.86,"y":25.5},{"s":"B5","c":"m","x":285.59,"y":40.4},{"s":"B5","c":"m","x":285.31,"y":62.4},{"s":"B5","c":"m","x":285.04,"y":83.9},{"s":"B5","c":"m","x":284.76,"y":93.1},{"s":"B5","c":"m","x":284.49,"y":83.9},{"s":"B5","c":"m","x":284.21,"y":62.4},{"s":"B5","c":"m","x":283.94,"y":40.4},{"s":"B5","c":"m","x":283.66,"y":25.5},{"s":"B5","c":"m","x":283.11,"y":15.9},
{"s":"B5","c":"d","x":288.02,"y":15.2},{"s":"B5","c":"d","x":287.47,"y":16.9},{"s":"B5","c":"d","x":287.2,"y":19.6},{"s":"B5","c":"d","x":286.92,"y":23.7},{"s":"B5","c":"d","x":286.65,"y":27.6},{"s":"B5","c":"d","x":286.37,"y":29.3},{"s":"B5","c":"d","x":286.1,"y":27.6},{"s":"B5","c":"d","x":285.82,"y":23.7},{"s":"B5","c":"d","x":285.55,"y":19.6},{"s":"B5","c":"d","x":285.27,"y":16.9},{"s":"B5","c":"d","x":284.72,"y":15.2},
{"s":"B5","c":"c","x":290.78,"y":15.1},{"s":"B5","c":"c","x":290.08,"y":15.8},{"s":"B5","c":"c","x":289.73,"y":17.0},{"s":"B5","c":"c","x":289.38,"y":18.6},{"s":"B5","c":"c","x":289.03,"y":20.3},{"s":"B5","c":"c","x":288.68,"y":21.0},{"s":"B5","c":"c","x":288.33,"y":20.3},{"s":"B5","c":"c","x":287.98,"y":18.6},{"s":"B5","c":"c","x":287.63,"y":17.0},{"s":"B5","c":"c","x":287.28,"y":15.8},{"s":"B5","c":"c","x":286.58,"y":15.1}
],
"baseB": [
{"s":"B1","x":295,"y":309.3},{"s":"B1","x":282.7,"y":309.3},
{"s":"B2","x":295,"y":244},{"s":"B2","x":282.5,"y":244},
{"s":"B3","x":295,"y":164.5},{"s":"B3","x":282.5,"y":164.5},
{"s":"B4","x":294.1,"y":100.5},{"s":"B4","x":282.3,"y":100.5},
{"s":"B5","x":295,"y":15},{"s":"B5","x":282.5,"y":15}
],
"labB": [
{"x":281.95,"y":325,"t":"LaCo_LEBM360"},{"x":281.95,"y":251,"t":"LaCo_LEBM120"},{"x":281.95,"y":171.7,"t":"LaCo_LEBM60"},{"x":281.95,"y":110,"t":"LaCo_HEBM"},{"x":281.95,"y":23.3,"t":"LaCo_SSR"}
],
"annB": [
{"k":"head","x":294.57,"y":383,"t":"C 1s"},
{"k":"tag","x":275.43,"y":383,"t":"(B)"},
{"k":"O","x":288.96,"y":344.5,"t":"CO"},
{"k":"sub","x":288.96,"y":342,"t":"3"},
{"k":"sup","x":288.69,"y":349,"t":"2-"}
]
},
"hconcat": [
{
 "width": 371, "height": 412,
 "resolve": {"axis": {"x": "independent"}},
 "encoding": {
   "x": {"field": "x", "type": "quantitative", "scale": {"domain": [540, 520], "nice": false, "zero": false}, "axis": null},
   "y": {"field": "y", "type": "quantitative", "scale": {"domain": [0, 412], "nice": false, "zero": false}, "title": "Intensity/ a.u."}
 },
 "layer": [
  {"data": {"name": "baseA"}, "mark": {"type": "line", "color": "#111", "strokeWidth": 1.3},
   "encoding": {"detail": {"field": "s"},
     "x": {"field": "x", "type": "quantitative", "scale": {"domain": [540, 520], "nice": false, "zero": false},
       "axis": {"orient": "bottom", "values": [540, 535, 530, 525, 520], "format": "d", "tickSize": 7, "labelFontSize": 24, "labelPadding": 4, "title": "Binding energy/ eV", "titleFontSize": 21, "titleFontWeight": "bold", "titlePadding": 9}}}},
  {"data": {"name": "specA"}, "mark": {"type": "line", "color": "#111", "strokeWidth": 2.0},
   "encoding": {"detail": {"field": "s"},
     "x": {"field": "x", "type": "quantitative", "scale": {"domain": [540, 520], "nice": false, "zero": false},
       "axis": {"orient": "bottom", "values": [539,538,537,536,534,533,532,531,529,528,527,526,524,523,522,521], "labels": false, "tickSize": 4, "domain": false, "title": null}}}},
  {"data": {"name": "compA"}, "mark": {"type": "line", "color": "#cc0000", "strokeWidth": 1.4, "interpolate": "monotone"},
   "encoding": {"detail": [{"field": "s"}, {"field": "c"}]}},
  {"data": {"name": "specA"}, "transform": [{"filter": "isValid(datum.f)"}], "mark": {"type": "line", "color": "#cc0000", "strokeWidth": 1.8, "interpolate": "monotone"},
   "encoding": {"detail": {"field": "s"}, "y": {"field": "f", "type": "quantitative", "scale": {"domain": [0, 412], "nice": false, "zero": false}, "title": "Intensity/ a.u."}}},
  {"data": {"name": "dashA"}, "mark": {"type": "rule", "color": "#333", "strokeWidth": 1.2, "strokeDash": [4, 3]},
   "encoding": {"y2": {"field": "y2"}}},
  {"data": {"name": "labA"}, "mark": {"type": "text", "align": "left", "baseline": "alphabetic", "fontSize": 18},
   "encoding": {"text": {"field": "t"}}},
  {"data": {"name": "annA"}, "transform": [{"filter": "datum.k == 'head'"}], "mark": {"type": "text", "align": "left", "baseline": "alphabetic", "fontSize": 21},
   "encoding": {"text": {"field": "t"}}},
  {"data": {"name": "annA"}, "transform": [{"filter": "datum.k == 'tag'"}], "mark": {"type": "text", "align": "right", "baseline": "alphabetic", "fontSize": 21, "fontWeight": "bold"},
   "encoding": {"text": {"field": "t"}}},
  {"data": {"name": "annA"}, "transform": [{"filter": "datum.k == 'O'"}], "mark": {"type": "text", "align": "right", "baseline": "alphabetic", "fontSize": 17},
   "encoding": {"text": {"field": "t"}}},
  {"data": {"name": "annA"}, "transform": [{"filter": "datum.k == 'sub'"}], "mark": {"type": "text", "align": "left", "baseline": "alphabetic", "fontSize": 11},
   "encoding": {"text": {"field": "t"}}}
 ]
},
{
 "width": 371, "height": 412,
 "resolve": {"axis": {"x": "independent"}},
 "encoding": {
   "x": {"field": "x", "type": "quantitative", "scale": {"domain": [295, 275], "nice": false, "zero": false}, "axis": null},
   "y": {"field": "y", "type": "quantitative", "scale": {"domain": [0, 412], "nice": false, "zero": false}, "title": "Intensity/ a.u."}
 },
 "layer": [
  {"data": {"name": "baseB"}, "mark": {"type": "line", "color": "#111", "strokeWidth": 1.3},
   "encoding": {"detail": {"field": "s"},
     "x": {"field": "x", "type": "quantitative", "scale": {"domain": [295, 275], "nice": false, "zero": false},
       "axis": {"orient": "bottom", "values": [295, 290, 285, 280, 275], "format": "d", "tickSize": 7, "labelFontSize": 24, "labelPadding": 4, "title": "Binding energy/ eV", "titleFontSize": 21, "titleFontWeight": "bold", "titlePadding": 9}}}},
  {"data": {"name": "specB"}, "mark": {"type": "line", "color": "#111", "strokeWidth": 2.0},
   "encoding": {"detail": {"field": "s"},
     "x": {"field": "x", "type": "quantitative", "scale": {"domain": [295, 275], "nice": false, "zero": false},
       "axis": {"orient": "bottom", "values": [294,293,292,291,289,288,287,286,284,283,282,281,279,278,277,276], "labels": false, "tickSize": 4, "domain": false, "title": null}}}},
  {"data": {"name": "compB"}, "mark": {"type": "line", "color": "#cc0000", "strokeWidth": 1.4, "interpolate": "monotone"},
   "encoding": {"detail": [{"field": "s"}, {"field": "c"}]}},
  {"data": {"name": "specB"}, "transform": [{"filter": "isValid(datum.f)"}], "mark": {"type": "line", "color": "#cc0000", "strokeWidth": 1.8, "interpolate": "monotone"},
   "encoding": {"detail": {"field": "s"}, "y": {"field": "f", "type": "quantitative", "scale": {"domain": [0, 412], "nice": false, "zero": false}, "title": "Intensity/ a.u."}}},
  {"data": {"name": "labB"}, "mark": {"type": "text", "align": "left", "baseline": "alphabetic", "fontSize": 18},
   "encoding": {"text": {"field": "t"}}},
  {"data": {"name": "annB"}, "transform": [{"filter": "datum.k == 'head'"}], "mark": {"type": "text", "align": "left", "baseline": "alphabetic", "fontSize": 21},
   "encoding": {"text": {"field": "t"}}},
  {"data": {"name": "annB"}, "transform": [{"filter": "datum.k == 'tag'"}], "mark": {"type": "text", "align": "right", "baseline": "alphabetic", "fontSize": 21, "fontWeight": "bold"},
   "encoding": {"text": {"field": "t"}}},
  {"data": {"name": "annB"}, "transform": [{"filter": "datum.k == 'O'"}], "mark": {"type": "text", "align": "right", "baseline": "alphabetic", "fontSize": 17},
   "encoding": {"text": {"field": "t"}}},
  {"data": {"name": "annB"}, "transform": [{"filter": "datum.k == 'sub' || datum.k == 'sup'"}], "mark": {"type": "text", "align": "left", "baseline": "alphabetic", "fontSize": 11},
   "encoding": {"text": {"field": "t"}}}
 ]
}
]
}
